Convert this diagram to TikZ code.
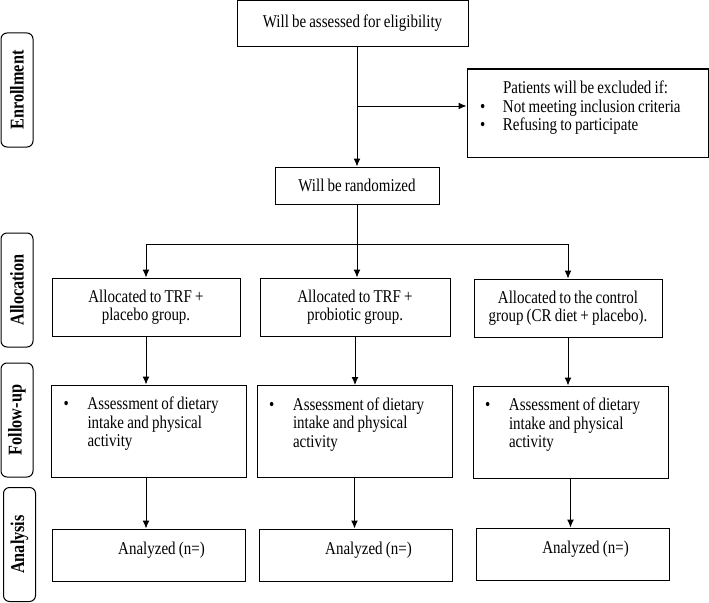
\documentclass[tikz,border=0pt]{standalone}
\usepackage{fontspec}
\setmainfont{Liberation Serif}[FakeStretch=0.833,WordSpace=0.833]
\usepackage{tikz}
\usetikzlibrary{shapes,arrows,arrows.meta}

\tikzset{
  box/.style={draw, inner sep=0pt, font=\fontsize{18}{18.5}\selectfont},
  stage/.style={draw, rounded corners=6pt, rotate=90, minimum width=114pt, minimum height=32pt, inner sep=0pt, font=\fontsize{19.5}{20}\selectfont\bfseries},
  groupbox/.style={box, minimum width=188pt, minimum height=58pt, align=center},
  followbox/.style={box, minimum height=92pt, text width=171pt, inner xsep=12pt, align=flush left},
  resultbox/.style={box, minimum width=193pt, minimum height=52pt}
}

\begin{document}
\begin{tikzpicture}[x=1pt,y=-1pt,>={Latex[length=8pt,width=7pt]},line width=1pt]
     \useasboundingbox (0,0) rectangle (709,602);
     \node [stage] (enrol) at (17,90) {Enrollment};
     \node [stage] (alloc) at (17,290) {Allocation};
     \node [stage] (follow) at (17,420) {Follow-up};
     \node [stage] (analysis) at (19.5,544.5) {Analysis};
     \node [box, minimum width=231pt, minimum height=46pt] (assess) at (352.5,23.5) {Will be assessed for eligibility};
     \node [box, minimum height=88pt, text width=215pt, inner xsep=13pt, align=flush left] (exclude) at (587.5,113)
          {\hspace*{23pt}Patients will be excluded if:\\
           \makebox[23pt][l]{\textbullet}Not meeting inclusion criteria\\
           \makebox[23pt][l]{\textbullet}Refusing to participate\rule[-14pt]{0pt}{14pt}};
     \node [box, minimum width=164pt, minimum height=37pt] (random) at (357,185.5) {Will be randomized};
     \node [groupbox] (trfplac) at (146,307) {Allocated to TRF +\\placebo group.};
     \node [groupbox, minimum width=190pt] (trfprob) at (355,307) {Allocated to TRF +\\probiotic group.};
     \node [groupbox] (control) at (568,308) {Allocated to the control\\group (CR diet + placebo).};
     \node [followbox] (fuplac) at (149,431)
          {\makebox[24pt][l]{\textbullet}Assessment of dietary\\\hspace*{24pt}intake and physical\\\hspace*{24pt}activity\rule[-18pt]{0pt}{18pt}};
     \node [followbox] (fuprob) at (354.5,431.5)
          {\makebox[24pt][l]{\textbullet}Assessment of dietary\\\hspace*{24pt}intake and physical\\\hspace*{24pt}activity\rule[-18pt]{0pt}{18pt}};
     \node [followbox] (fucont) at (570.5,432)
          {\makebox[24pt][l]{\textbullet}Assessment of dietary\\\hspace*{24pt}intake and physical\\\hspace*{24pt}activity\rule[-18pt]{0pt}{18pt}};
     \node [resultbox] (anplac) at (148.5,555) {\hspace*{26pt}Analyzed (n=)\rule[-14pt]{0pt}{0pt}};
     \node [resultbox] (anprob) at (355.5,555) {\hspace*{26pt}Analyzed (n=)\rule[-14pt]{0pt}{0pt}};
     \node [resultbox] (ancont) at (572.5,554) {\hspace*{26pt}Analyzed (n=)\rule[-14pt]{0pt}{0pt}};
     \coordinate (exsplit) at (357,106);
     \coordinate (split) at (357,244);
     \draw [->] (assess.south -| random.north) -- (random.north);
     \draw [->] (exsplit) -- (exsplit -| exclude.west);
     \draw [->] (random.south) -- (random.south |- trfprob.north);
     \draw [->] (split) -| (trfplac.north);
     \draw [->] (split) -| (control.north);
     \draw [->] (trfplac.south) -- (trfplac.south |- fuplac.north);
     \draw [->] (trfprob.south) -- (trfprob.south |- fuprob.north);
     \draw [->] (control.south) -- (control.south |- fucont.north);
     \draw [->] (fuplac.south -| trfplac.south) -- (trfplac.south |- anplac.north);
     \draw [->] (fuprob.south) -- (fuprob.south |- anprob.north);
     \draw [->] (fucont.south) -- (fucont.south |- ancont.north);
\end{tikzpicture}
\end{document}
